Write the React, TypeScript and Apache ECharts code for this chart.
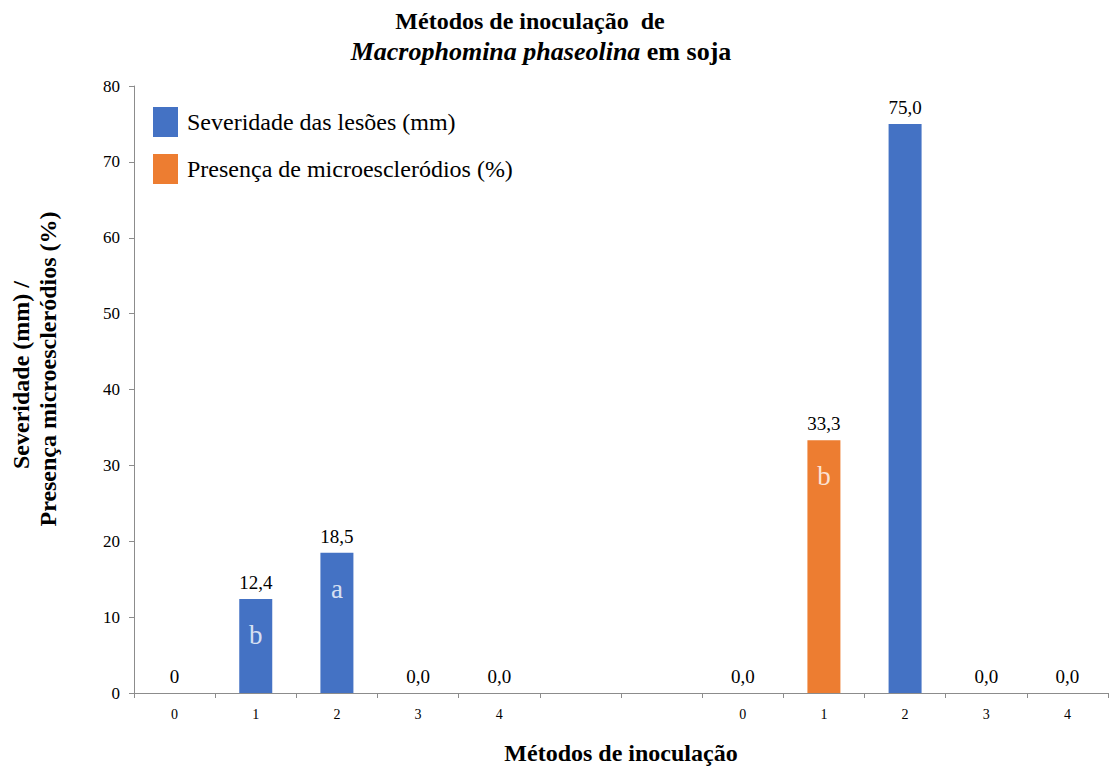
import React, { useEffect, useRef } from "react";
import * as echarts from "echarts";

const categories = ["0", "1", "2", "3", "4", "", "", "0", "1", "2", "3", "4"];
const severity = [0, 12.4, 18.5, 0, 0, null, null, null, null, 75.0, 0, 0];
const microsclerotia = [null, null, null, null, null, null, null, 0, 33.3, null, null, null];
const valueLabels = ["0", "12,4", "18,5", "0,0", "0,0", "", "", "0,0", "33,3", "75,0", "0,0", "0,0"];
const letters = ["", "b", "a", "", "", "", "", "", "b", "", "", ""];
const letterValues = [null, 12.4, 18.5, null, null, null, null, null, 33.3, null, null, null];

const FONT = "Liberation Serif";
const BLUE = "#4472C4";
const ORANGE = "#ED7D31";

export default function App() {
  const ref = useRef<HTMLDivElement>(null);
  useEffect(() => {
    if (!ref.current) return;
    const chart = echarts.init(ref.current, undefined, { renderer: "svg" });
    const valueLabel = {
      show: true,
      position: "top",
      distance: 7,
      fontFamily: FONT,
      fontSize: 19,
      color: "#000",
      formatter: (p: any) => valueLabels[p.dataIndex],
    };
    chart.setOption({
      animation: false,
      backgroundColor: "#fff",
      grid: {
        left: 134,
        top: 86,
        width: 974,
        height: 607,
        containLabel: false,
        outerBoundsMode: "none",
      },
      legend: {
        orient: "vertical",
        left: 153,
        top: 107,
        padding: 0,
        itemWidth: 25,
        itemHeight: 30,
        itemGap: 17,
        icon: "rect",
        textStyle: { fontFamily: FONT, fontSize: 24, color: "#000", padding: [0, 0, 0, 4] },
        data: ["Severidade das lesões (mm)", "Presença de microescleródios (%)"],
      },
      xAxis: {
        type: "category",
        data: categories,
        boundaryGap: true,
        name: "Métodos de inoculação",
        nameLocation: "middle",
        nameGap: 48,
        nameTextStyle: { fontFamily: FONT, fontSize: 24, fontWeight: "bold", color: "#000" },
        axisLine: { lineStyle: { color: "#8c8c8c", width: 1 } },
        axisTick: { show: true, length: 5, interval: 0, lineStyle: { color: "#8c8c8c" } },
        axisLabel: { interval: 0, fontFamily: FONT, fontSize: 14, color: "#000", margin: 14 },
      },
      yAxis: {
        type: "value",
        min: 0,
        max: 80,
        interval: 10,
        axisLine: { show: true, lineStyle: { color: "#8c8c8c", width: 1 } },
        axisTick: { show: true, length: 5, lineStyle: { color: "#8c8c8c" } },
        splitLine: { show: false },
        axisLabel: { fontFamily: FONT, fontSize: 17, color: "#000", margin: 14 },
      },
      graphic: [
        {
          type: "text",
          x: 530,
          y: 21,
          style: {
            text: "Métodos de inoculação  de",
            font: `bold 24px ${FONT}`,
            fill: "#000",
            align: "center",
            verticalAlign: "middle",
          },
        },
        {
          type: "text",
          x: 541,
          y: 51,
          style: {
            text: "{bi|Macrophomina phaseolina}{b| em soja}",
            align: "center",
            verticalAlign: "middle",
            rich: {
              bi: { fontFamily: FONT, fontSize: 26, fontWeight: "bold", fontStyle: "italic", fill: "#000" },
              b: { fontFamily: FONT, fontSize: 26, fontWeight: "bold", fill: "#000" },
            },
          },
        },
        {
          type: "text",
          x: 21,
          y: 375,
          rotation: Math.PI / 2,
          style: {
            text: "Severidade (mm) /",
            font: `bold 24px ${FONT}`,
            fill: "#000",
            align: "center",
            verticalAlign: "middle",
          },
        },
        {
          type: "text",
          x: 48,
          y: 369,
          rotation: Math.PI / 2,
          style: {
            text: "Presença microescleródios (%)",
            font: `bold 24px ${FONT}`,
            fill: "#000",
            align: "center",
            verticalAlign: "middle",
          },
        },
      ],
      series: [
        {
          name: "Severidade das lesões (mm)",
          type: "bar",
          stack: "s",
          barWidth: 33,
          data: severity,
          itemStyle: { color: BLUE },
          label: valueLabel,
        },
        {
          name: "Presença de microescleródios (%)",
          type: "bar",
          stack: "s",
          barWidth: 33,
          data: microsclerotia,
          itemStyle: { color: ORANGE },
          label: valueLabel,
        },
        {
          name: "letters",
          type: "scatter",
          data: letterValues,
          symbolSize: 0,
          silent: true,
          label: {
            show: true,
            position: "inside",
            offset: [0, 36],
            fontFamily: FONT,
            fontSize: 27,
            color: "#fff",
            formatter: (p: any) => letters[p.dataIndex],
          },
        },
      ],
    });
    return () => chart.dispose();
  }, []);
  return (
    <div
      ref={ref}
      style={{ position: "fixed", left: 0, top: 0, width: 1109, height: 767, background: "#fff" }}
    />
  );
}
